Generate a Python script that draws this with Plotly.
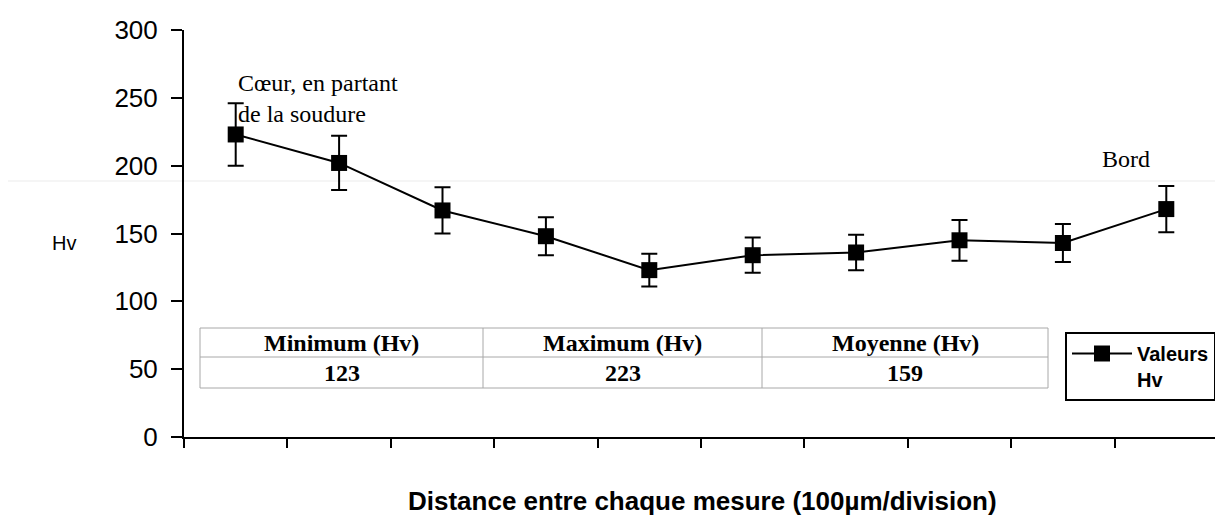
import plotly.graph_objects as go

positions = [1, 2, 3, 4, 5, 6, 7, 8, 9, 10]
hv_values = [223, 202, 167, 148, 123, 134, 136, 145, 143, 168]
hv_errors = [23, 20, 17, 14, 12, 13, 13, 15, 14, 17]
y_ticks = [0, 50, 100, 150, 200, 250, 300]
table_headers = ["Minimum (Hv)", "Maximum (Hv)", "Moyenne (Hv)"]
table_values = ["123", "223", "159"]

# plot area in page pixels (page has an 8px body margin)
PL, PR, PT, PB = 184, 1218, 30, 437
OFF = 8
W, H = 1215, 508


def px_x(p):
    return (p - PL) / (PR - PL)


def px_y(p):
    return (PB - p) / (PB - PT)


fig = go.Figure()
fig.add_trace(go.Scatter(
    x=positions, y=hv_values,
    mode="lines+markers",
    name="Valeurs<br>Hv",
    line=dict(color="black", width=2),
    marker=dict(symbol="square", size=16, color="black"),
    error_y=dict(type="data", array=hv_errors, visible=True,
                 color="black", thickness=2, width=8),
))

fig.update_layout(
    width=W, height=H,
    margin=dict(l=PL - OFF, r=W + OFF - PR, t=PT - OFF, b=H + OFF - PB, autoexpand=False),
    paper_bgcolor="white", plot_bgcolor="white",
    font=dict(family="Liberation Sans, Arial", color="black"),
    showlegend=True,
    legend=dict(
        x=px_x(1065), y=px_y(332), xanchor="left", yanchor="top",
        bordercolor="black", borderwidth=2, bgcolor="white",
        font=dict(size=20, family="Liberation Sans, Arial", weight="bold"),
        valign="top", itemwidth=60,
    ),
    xaxis=dict(
        range=[0.5, 10.5],
        tickvals=[i + 0.5 for i in range(0, 11)],
        ticktext=[""] * 11,
        ticks="outside", ticklen=9, tickwidth=2, tickcolor="black",
        showline=True, linecolor="black", linewidth=2,
        showgrid=False, zeroline=False,
    ),
    yaxis=dict(
        range=[0, 300],
        tickvals=y_ticks,
        ticks="outside", ticklen=11, tickwidth=2, tickcolor="black",
        tickfont=dict(size=26),
        ticklabelstandoff=8,
        showline=True, linecolor="black", linewidth=2,
        showgrid=False, zeroline=False,
    ),
)

# faint scan line across the page
fig.add_shape(type="line", xref="paper", yref="paper",
              x0=px_x(0), x1=px_x(1223), y0=px_y(181), y1=px_y(181),
              line=dict(color="#ebebeb", width=1), layer="below")

# axis titles
fig.add_annotation(text="Hv", xref="paper", yref="paper", x=px_x(64), y=px_y(243),
                   xanchor="center", yanchor="middle",
                   showarrow=False, font=dict(size=20))
fig.add_annotation(text="<b>Distance entre chaque mesure (100µm/division)</b>",
                   xref="paper", yref="paper", x=px_x(702), y=px_y(501),
                   xanchor="center", yanchor="middle",
                   showarrow=False, font=dict(size=26))

# text annotations
serif = "Liberation Serif, Times New Roman"
fig.add_annotation(text="Cœur, en partant<br>de la soudure", xref="paper", yref="paper",
                   x=px_x(236), y=px_y(98), xanchor="left", yanchor="middle",
                   align="left", showarrow=False, font=dict(size=24, family=serif))
fig.add_annotation(text="Bord", xref="paper", yref="paper",
                   x=px_x(1126), y=px_y(159), xanchor="center", yanchor="middle",
                   showarrow=False, font=dict(size=24, family=serif))

# summary table
col_edges = [200, 483, 762, 1048]
top, mid, bot = 328, 357, 388
gray = "#a8a8a8"
fig.add_shape(type="rect", xref="paper", yref="paper",
              x0=px_x(col_edges[0]), x1=px_x(col_edges[-1]), y0=px_y(bot), y1=px_y(top),
              line=dict(color=gray, width=1), fillcolor="white")
fig.add_shape(type="line", xref="paper", yref="paper",
              x0=px_x(col_edges[0]), x1=px_x(col_edges[-1]), y0=px_y(mid), y1=px_y(mid),
              line=dict(color=gray, width=1))
for e in col_edges[1:-1]:
    fig.add_shape(type="line", xref="paper", yref="paper",
                  x0=px_x(e), x1=px_x(e), y0=px_y(bot), y1=px_y(top),
                  line=dict(color=gray, width=1))
for i, (h, v) in enumerate(zip(table_headers, table_values)):
    cx = px_x((col_edges[i] + col_edges[i + 1]) / 2)
    fig.add_annotation(text="<b>" + h + "</b>", xref="paper", yref="paper",
                       x=cx, y=px_y((top + mid) / 2), xanchor="center", yanchor="middle",
                       showarrow=False, font=dict(size=24, family=serif))
    fig.add_annotation(text="<b>" + v + "</b>", xref="paper", yref="paper",
                       x=cx, y=px_y((mid + bot) / 2), xanchor="center", yanchor="middle",
                       showarrow=False, font=dict(size=24, family=serif))

fig.write_html("out.html")
